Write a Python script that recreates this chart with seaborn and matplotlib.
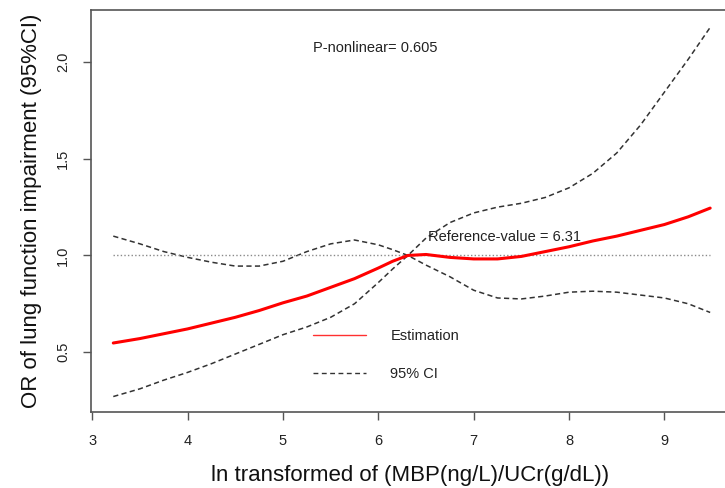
import matplotlib
matplotlib.use("Agg")
import matplotlib.pyplot as plt
from matplotlib.lines import Line2D
import seaborn as sns
import pandas as pd

# ---- data ----
x_vals = [3.22, 3.5, 3.75, 4.0, 4.25, 4.5, 4.75, 5.0, 5.25, 5.5, 5.75, 6.0, 6.15, 6.31,
          6.5, 6.75, 7.0, 7.25, 7.5, 7.75, 8.0, 8.25, 8.5, 8.75, 9.0, 9.25, 9.48]
estimate = [0.547, 0.57, 0.595, 0.62, 0.65, 0.68, 0.715, 0.755, 0.79, 0.835, 0.88, 0.935, 0.97, 1.0,
            1.005, 0.99, 0.982, 0.982, 0.995, 1.02, 1.045, 1.075, 1.10, 1.13, 1.16, 1.20, 1.245]
ci_a = [1.10, 1.06, 1.02, 0.99, 0.965, 0.945, 0.945, 0.97, 1.02, 1.06, 1.08, 1.055, 1.03, 1.0,
        0.95, 0.89, 0.82, 0.78, 0.775, 0.79, 0.81, 0.815, 0.81, 0.795, 0.78, 0.75, 0.705]
ci_b = [0.27, 0.31, 0.355, 0.395, 0.44, 0.49, 0.54, 0.59, 0.63, 0.68, 0.75, 0.86, 0.93, 1.0,
        1.09, 1.17, 1.22, 1.25, 1.27, 1.30, 1.35, 1.425, 1.53, 1.675, 1.845, 2.015, 2.18]
ref_value = 6.31
ref_y = 1.0
x_ticks = [3, 4, 5, 6, 7, 8, 9]
y_ticks = [0.5, 1.0, 1.5, 2.0]
p_text = "P-nonlinear= 0.605"
ref_text = "Reference-value = 6.31"
legend_labels = ["Estimation", "95% CI"]
x_label = "ln transformed of (MBP(ng/L)/UCr(g/dL))"
y_label = "OR of lung function impairment (95%CI)"

df = pd.DataFrame({"x": x_vals, "est": estimate, "a": ci_a, "b": ci_b})

sns.set_style("ticks")
plt.rcParams["font.family"] = ["Liberation Sans", "DejaVu Sans"]

W, H = 725, 488
fig = plt.figure(figsize=(W / 100, H / 100), dpi=100)
left_px, right_px, top_px, bot_px = 90.5, 730, 10, 412
ax = fig.add_axes([left_px / W, 1 - bot_px / H, (right_px - left_px) / W, (bot_px - top_px) / H])

dash = (0, (3.4, 2.2))
sns.lineplot(data=df, x="x", y="a", ax=ax, color="#333333", lw=1.1, linestyle=dash,
             estimator=None, sort=False)
sns.lineplot(data=df, x="x", y="b", ax=ax, color="#333333", lw=1.1, linestyle=dash,
             estimator=None, sort=False)
ax.plot([min(x_vals), max(x_vals)], [ref_y, ref_y], color="#8a8a8a", lw=1.0,
        linestyle=(0, (1, 1.6)))
sns.lineplot(data=df, x="x", y="est", ax=ax, color="#ff0000", lw=2.2,
             estimator=None, sort=False)

ax.set_xlim(2.981, 9.688)
ax.set_ylim(0.19, 2.27)
ax.set_xticks(x_ticks)
ax.set_xticklabels([str(t) for t in x_ticks])
ax.set_yticks(y_ticks)
ax.set_yticklabels([f"{t:.1f}" for t in y_ticks], rotation=90, va="center")

for s in ax.spines.values():
    s.set_color("#555555")
    s.set_linewidth(1.2)
ax.tick_params(axis="both", direction="out", length=5.5, width=1.0, color="#555555",
               labelsize=10.5, labelcolor="#222222")
ax.tick_params(axis="x", pad=10.5)
ax.tick_params(axis="y", pad=9)

ax.text(5.31, 2.074, p_text, fontsize=10.5, color="#222222", ha="left", va="center")
ax.text(6.52, 1.098, ref_text, fontsize=10.5, color="#222222", ha="left", va="center")

handles = [Line2D([], [], color="#ff3030", lw=1.0),
           Line2D([], [], color="#333333", lw=1.0, linestyle=(0, (3.5, 2.5)))]
ax.legend(handles, legend_labels, loc="upper left", bbox_to_anchor=(313 / W, 1 - 329.5 / H),
          bbox_transform=fig.transFigure, frameon=False, fontsize=10.5, handlelength=3.6,
          handletextpad=1.7, labelspacing=1.64, borderpad=0, borderaxespad=0,
          labelcolor="#222222")

ax.set_xlabel(x_label, fontsize=16, color="#111111")
ax.set_ylabel(y_label, fontsize=16, color="#111111")
ax.xaxis.set_label_coords(0.5, (bot_px - 481) / (bot_px - top_px))
ax.xaxis.label.set_verticalalignment("baseline")
ax.yaxis.set_label_coords((42 - left_px) / (right_px - left_px), 0.5)

fig.savefig("out.png", dpi=100)
